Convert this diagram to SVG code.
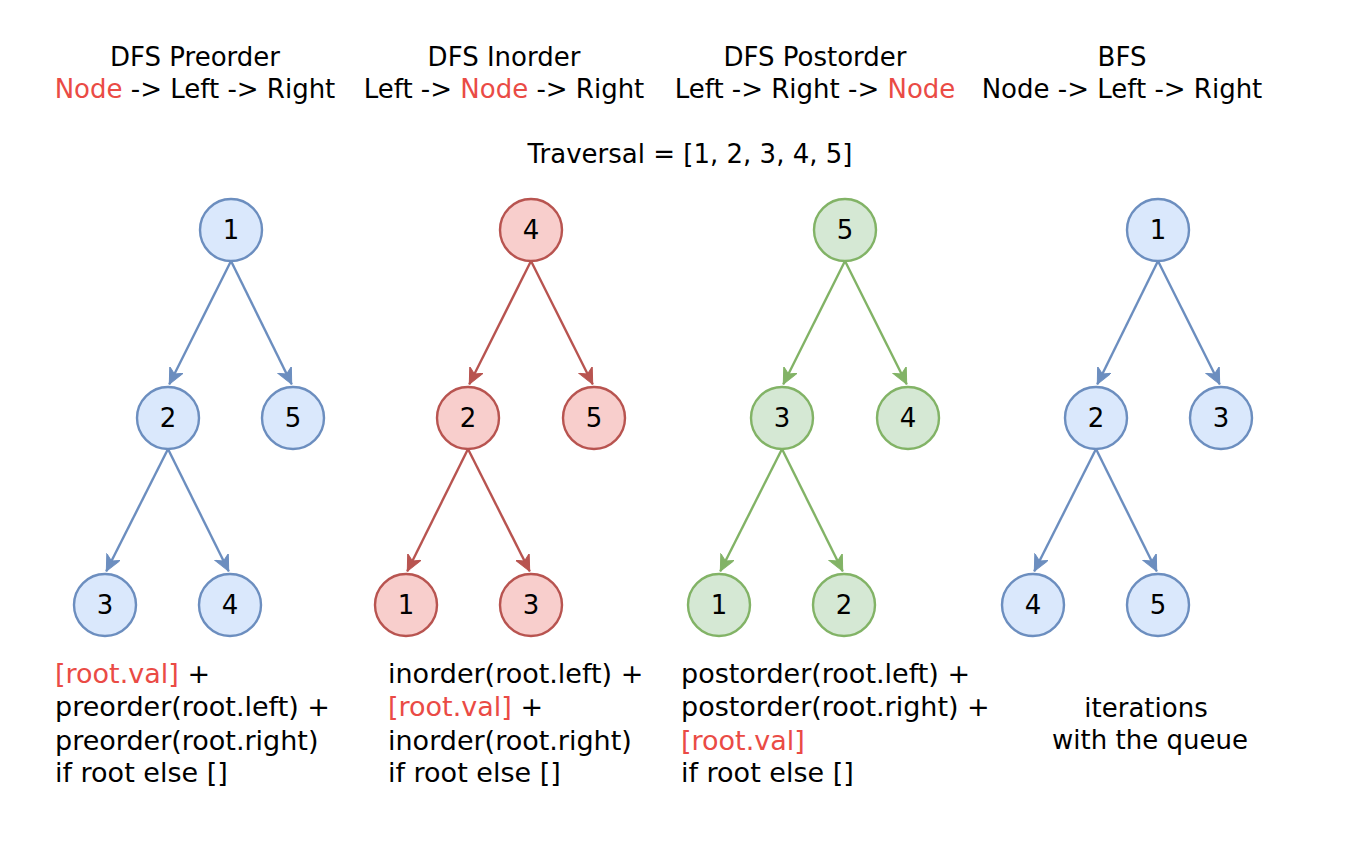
<svg xmlns="http://www.w3.org/2000/svg" width="1358" height="846" viewBox="0 0 1358 846">
<style>
text{font-family:"DejaVu Sans","Liberation Sans",sans-serif;font-size:26px;fill:#000}
.c{text-anchor:middle}
.hl{fill:#EA4B45}
.code{font-size:27px}
.num{text-anchor:middle;font-size:26px}
.b circle{fill:#dae8fc;stroke:#6c8ebf;stroke-width:2.4}
.r circle{fill:#f8cecc;stroke:#b85450;stroke-width:2.4}
.g circle{fill:#d5e8d4;stroke:#82b366;stroke-width:2.4}
.eb{stroke:#6c8ebf;stroke-width:2.4;fill:none;marker-end:url(#ab)}
.er{stroke:#b85450;stroke-width:2.4;fill:none;marker-end:url(#ar)}
.eg{stroke:#82b366;stroke-width:2.4;fill:none;marker-end:url(#ag)}
</style>
<defs>
<marker id="ab" markerUnits="userSpaceOnUse" markerWidth="18" markerHeight="16" refX="16" refY="7.5" orient="auto"><path d="M0,0 L16,7.5 L0,15 L4.5,7.5 Z" fill="#6c8ebf" stroke="#6c8ebf" stroke-width="1"/></marker>
<marker id="ar" markerUnits="userSpaceOnUse" markerWidth="18" markerHeight="16" refX="16" refY="7.5" orient="auto"><path d="M0,0 L16,7.5 L0,15 L4.5,7.5 Z" fill="#b85450" stroke="#b85450" stroke-width="1"/></marker>
<marker id="ag" markerUnits="userSpaceOnUse" markerWidth="18" markerHeight="16" refX="16" refY="7.5" orient="auto"><path d="M0,0 L16,7.5 L0,15 L4.5,7.5 Z" fill="#82b366" stroke="#82b366" stroke-width="1"/></marker>
</defs>
<rect width="1358" height="846" fill="#ffffff"/>

<g id="headers">
<text class="c" x="195" y="66">DFS Preorder</text>
<text class="c" x="195" y="98"><tspan class="hl">Node</tspan> -&gt; Left -&gt; Right</text>
<text class="c" x="504" y="66">DFS Inorder</text>
<text class="c" x="504" y="98">Left -&gt; <tspan class="hl">Node</tspan> -&gt; Right</text>
<text class="c" x="815" y="66">DFS Postorder</text>
<text class="c" x="815" y="98">Left -&gt; Right -&gt; <tspan class="hl">Node</tspan></text>
<text class="c" x="1122" y="66">BFS</text>
<text class="c" x="1122" y="98">Node -&gt; Left -&gt; Right</text>
<text class="c" x="690" y="163">Traversal = [1, 2, 3, 4, 5]</text>
</g>

<g id="connectors">
<line class="eb" x1="231" y1="261" x2="169.3" y2="384.3"/>
<line class="eb" x1="231" y1="261" x2="291.7" y2="384.3"/>
<line class="eb" x1="168" y1="449" x2="106.3" y2="571.3"/>
<line class="eb" x1="168" y1="449" x2="228.7" y2="571.3"/>
<line class="er" x1="531" y1="261" x2="469.3" y2="384.3"/>
<line class="er" x1="531" y1="261" x2="592.7" y2="384.3"/>
<line class="er" x1="468" y1="449" x2="407.3" y2="571.3"/>
<line class="er" x1="468" y1="449" x2="529.7" y2="571.3"/>
<line class="eg" x1="845" y1="261" x2="783.3" y2="384.3"/>
<line class="eg" x1="845" y1="261" x2="906.7" y2="384.3"/>
<line class="eg" x1="782" y1="449" x2="720.3" y2="571.3"/>
<line class="eg" x1="782" y1="449" x2="842.7" y2="571.3"/>
<line class="eb" x1="1158" y1="261" x2="1097.3" y2="384.3"/>
<line class="eb" x1="1158" y1="261" x2="1219.7" y2="384.3"/>
<line class="eb" x1="1096" y1="449" x2="1034.3" y2="571.3"/>
<line class="eb" x1="1096" y1="449" x2="1156.7" y2="571.3"/>
</g>

<g id="pre-1" class="b"><circle cx="231" cy="230" r="31"/><text class="num" x="231" y="239">1</text></g>
<g id="pre-2" class="b"><circle cx="168" cy="418" r="31"/><text class="num" x="168" y="427">2</text></g>
<g id="pre-5" class="b"><circle cx="293" cy="418" r="31"/><text class="num" x="293" y="427">5</text></g>
<g id="pre-3" class="b"><circle cx="105" cy="605" r="31"/><text class="num" x="105" y="614">3</text></g>
<g id="pre-4" class="b"><circle cx="230" cy="605" r="31"/><text class="num" x="230" y="614">4</text></g>

<g id="in-4" class="r"><circle cx="531" cy="230" r="31"/><text class="num" x="531" y="239">4</text></g>
<g id="in-2" class="r"><circle cx="468" cy="418" r="31"/><text class="num" x="468" y="427">2</text></g>
<g id="in-5" class="r"><circle cx="594" cy="418" r="31"/><text class="num" x="594" y="427">5</text></g>
<g id="in-1" class="r"><circle cx="406" cy="605" r="31"/><text class="num" x="406" y="614">1</text></g>
<g id="in-3" class="r"><circle cx="531" cy="605" r="31"/><text class="num" x="531" y="614">3</text></g>

<g id="post-5" class="g"><circle cx="845" cy="230" r="31"/><text class="num" x="845" y="239">5</text></g>
<g id="post-3" class="g"><circle cx="782" cy="418" r="31"/><text class="num" x="782" y="427">3</text></g>
<g id="post-4" class="g"><circle cx="908" cy="418" r="31"/><text class="num" x="908" y="427">4</text></g>
<g id="post-1" class="g"><circle cx="719" cy="605" r="31"/><text class="num" x="719" y="614">1</text></g>
<g id="post-2" class="g"><circle cx="844" cy="605" r="31"/><text class="num" x="844" y="614">2</text></g>

<g id="bfs-1" class="b"><circle cx="1158" cy="230" r="31"/><text class="num" x="1158" y="239">1</text></g>
<g id="bfs-2" class="b"><circle cx="1096" cy="418" r="31"/><text class="num" x="1096" y="427">2</text></g>
<g id="bfs-3" class="b"><circle cx="1221" cy="418" r="31"/><text class="num" x="1221" y="427">3</text></g>
<g id="bfs-4" class="b"><circle cx="1033" cy="605" r="31"/><text class="num" x="1033" y="614">4</text></g>
<g id="bfs-5" class="b"><circle cx="1158" cy="605" r="31"/><text class="num" x="1158" y="614">5</text></g>

<g id="code-pre">
<text class="code" x="55" y="683"><tspan class="hl">[root.val]</tspan> +</text>
<text class="code" x="55" y="716">preorder(root.left) +</text>
<text class="code" x="55" y="750">preorder(root.right)</text>
<text class="code" x="55" y="782">if root else []</text>
</g>
<g id="code-in">
<text class="code" x="388" y="683">inorder(root.left) +</text>
<text class="code" x="388" y="716"><tspan class="hl">[root.val]</tspan> +</text>
<text class="code" x="388" y="750">inorder(root.right)</text>
<text class="code" x="388" y="782">if root else []</text>
</g>
<g id="code-post">
<text class="code" x="681" y="683">postorder(root.left) +</text>
<text class="code" x="681" y="716">postorder(root.right) +</text>
<text class="code" x="681" y="750"><tspan class="hl">[root.val]</tspan></text>
<text class="code" x="681" y="782">if root else []</text>
</g>
<g id="code-bfs">
<text class="c" x="1146" y="717">iterations</text>
<text class="c" x="1150" y="749">with the queue</text>
</g>
</svg>
